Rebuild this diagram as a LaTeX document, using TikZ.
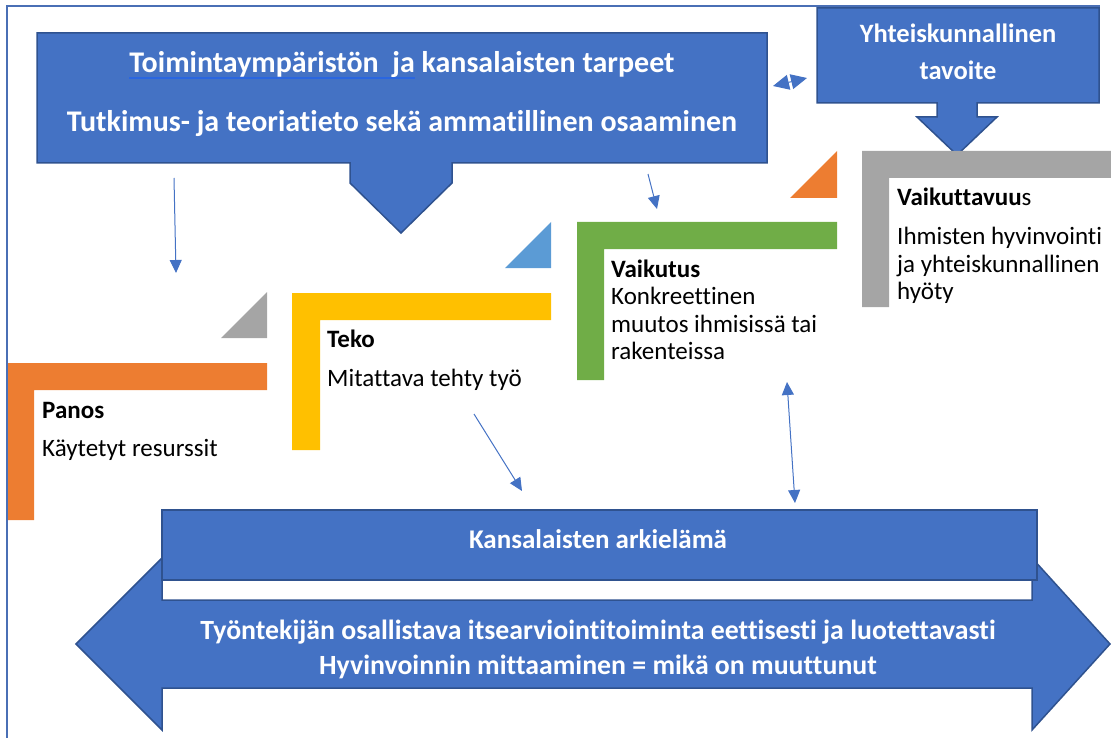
\documentclass[tikz,border=0pt]{standalone}
\usepackage{fontspec}
\setmainfont{Carlito}[Ligatures=NoCommon]
\usetikzlibrary{arrows.meta}

\definecolor{accblue}{HTML}{4472C4}
\definecolor{edgeblue}{HTML}{2F528F}
\definecolor{accorange}{HTML}{ED7D31}
\definecolor{accgray}{HTML}{A5A5A5}
\definecolor{accyellow}{HTML}{FFC000}
\definecolor{accgreen}{HTML}{70AD47}
\definecolor{acclight}{HTML}{5B9BD5}
\definecolor{ulblue}{HTML}{2A66E0}
\definecolor{framecol}{HTML}{4A6FB5}

% underline drawn in a separate blue below a piece of text
\newsavebox\ulbox
\newcommand\blueul[1]{\sbox\ulbox{#1}\rlap{\textcolor{ulblue}{\rule[-6pt]{\wd\ulbox}{2.4pt}}}\usebox\ulbox}

\begin{document}
\begin{tikzpicture}[x=1pt,y=-1pt,
  blueshape/.style={fill=accblue,draw=edgeblue,line width=1.5pt,line join=miter},
  whitetext/.style={text=white,font=\fontsize{27}{32}\selectfont\bfseries,inner sep=0pt,anchor=base},
  evaltext/.style={whitetext,font=\fontsize{27.8}{33}\selectfont\bfseries},
  toptext/.style={whitetext,font=\fontsize{30}{36}\selectfont\bfseries},
  goaltext/.style={whitetext,font=\fontsize{26.5}{32}\selectfont\bfseries},
  bodytext/.style={text=black,font=\fontsize{25}{30}\selectfont,inner sep=0pt,anchor=base west},
  headtext/.style={text=black,font=\fontsize{25}{30}\selectfont\bfseries,inner sep=0pt,anchor=base west},
  link/.style={draw=accblue,line width=1pt,-{Triangle[length=13pt,width=12pt]}},
  biglink/.style={draw=accblue,line width=1pt,{Triangle[length=16pt,width=15pt]}-{Triangle[length=16pt,width=15pt]}},
  twolink/.style={draw=accblue,line width=1pt,{Triangle[length=13pt,width=12pt]}-{Triangle[length=13pt,width=12pt]}}
]
\useasboundingbox (0,0) rectangle (1111,738);

% ---- top callout: operating environment and knowledge base
\draw[blueshape] (37,33) -- (767,33) -- (767,163) -- (452,163) -- (452,183)
  -- (401,233) -- (350,183) -- (350,163) -- (37,163) -- cycle;
\node[toptext] (needs) at (402,73) {\blueul{Toimintaympäristön\ \ ja} kansalaisten tarpeet};
\node[toptext] (research) at (402,132) {Tutkimus- ja teoriatieto sekä ammatillinen osaaminen};

% ---- societal goal box with downward arrow
\draw[blueshape] (817,8) -- (1099,8) -- (1099,103) -- (977,103) -- (977,117)
  -- (997,117) -- (957,155) -- (917,117) -- (937,117) -- (937,103) -- (817,103) -- cycle;
\node[goaltext] (goal1) at (958,43) {Yhteiskunnallinen};
\node[goaltext] (goal2) at (958,80) {tavoite};

% ---- step brackets (L shapes) and their corner triangles
\fill[accgray] (862,151) -- (1111,151) -- (1111,178) -- (889,178) -- (889,307) -- (862,307) -- cycle;
\fill[accorange] (790,198) -- (837,198) -- (837,151) -- cycle;

\fill[accgreen] (577,222) -- (837,222) -- (837,249) -- (604,249) -- (604,380) -- (577,380) -- cycle;
\fill[acclight] (505,268) -- (551,268) -- (551,222) -- cycle;

\fill[accyellow] (292,293) -- (551,293) -- (551,320) -- (320,320) -- (320,450) -- (292,450) -- cycle;
\fill[accgray] (221,338) -- (267,338) -- (267,292) -- cycle;

\fill[accorange] (7,363) -- (267,363) -- (267,390) -- (34,390) -- (34,520) -- (7,520) -- cycle;

% ---- step texts
\node[headtext] (vt1) at (897,206) {Vaikuttavuu\mdseries s};
\node[bodytext] (vt2) at (897,244) {Ihmisten hyvinvointi};
\node[bodytext] (vt3) at (897,272) {ja yhteiskunnallinen};
\node[bodytext] (vt4) at (897,299) {hyöty};

\node[headtext] (vk1) at (611,277) {Vaikutus};
\node[bodytext] (vk2) at (611,304) {Konkreettinen};
\node[bodytext] (vk3) at (611,332) {muutos ihmisissä tai};
\node[bodytext] (vk4) at (611,359) {rakenteissa};

\node[headtext] (tk1) at (327,347) {Teko};
\node[bodytext] (tk2) at (327,386) {Mitattava tehty työ};

\node[headtext] (pn1) at (42,418) {Panos};
\node[bodytext] (pn2) at (42,456) {Käytetyt resurssit};

% ---- bottom double arrow and everyday-life bar
\draw[blueshape] (76,644) -- (162,558) -- (162,600) -- (1032,600) -- (1032,558)
  -- (1110,644) -- (1032,730) -- (1032,688) -- (162,688) -- (162,730) -- cycle;
\node[evaltext] (eval1) at (598,639) {Työntekijän osallistava itsearviointitoiminta eettisesti ja luotettavasti};
\node[evaltext] (eval2) at (598,674) {Hyvinvoinnin mittaaminen = mikä on muuttunut};

\draw[blueshape] (162,510) rectangle (1037,580);
\node[whitetext] (life) at (598,548) {Kansalaisten arkielämä};

% ---- connector end points
\coordinate (a1s) at (174,178);
\coordinate (a1e) at (176,273);
\coordinate (a2s) at (648,174);
\coordinate (a2e) at (657,209);
\coordinate (a3s) at (474,414);
\coordinate (a3e) at (522,491);
\coordinate (a4s) at (787,382);
\coordinate (a4e) at (795,503);
\coordinate (a5s) at (773,86);
\coordinate (a5e) at (807,78);

\draw[link] (a1s) -- (a1e);
\draw[link] (a2s) -- (a2e);
\draw[link] (a3s) -- (a3e);
\draw[twolink] (a4s) -- (a4e);
\draw[biglink] (a5s) -- (a5e);

% ---- partial page frame
\draw[framecol,line width=1.2pt] (7,738) -- (7,6) -- (1100,6);
\end{tikzpicture}
\end{document}
